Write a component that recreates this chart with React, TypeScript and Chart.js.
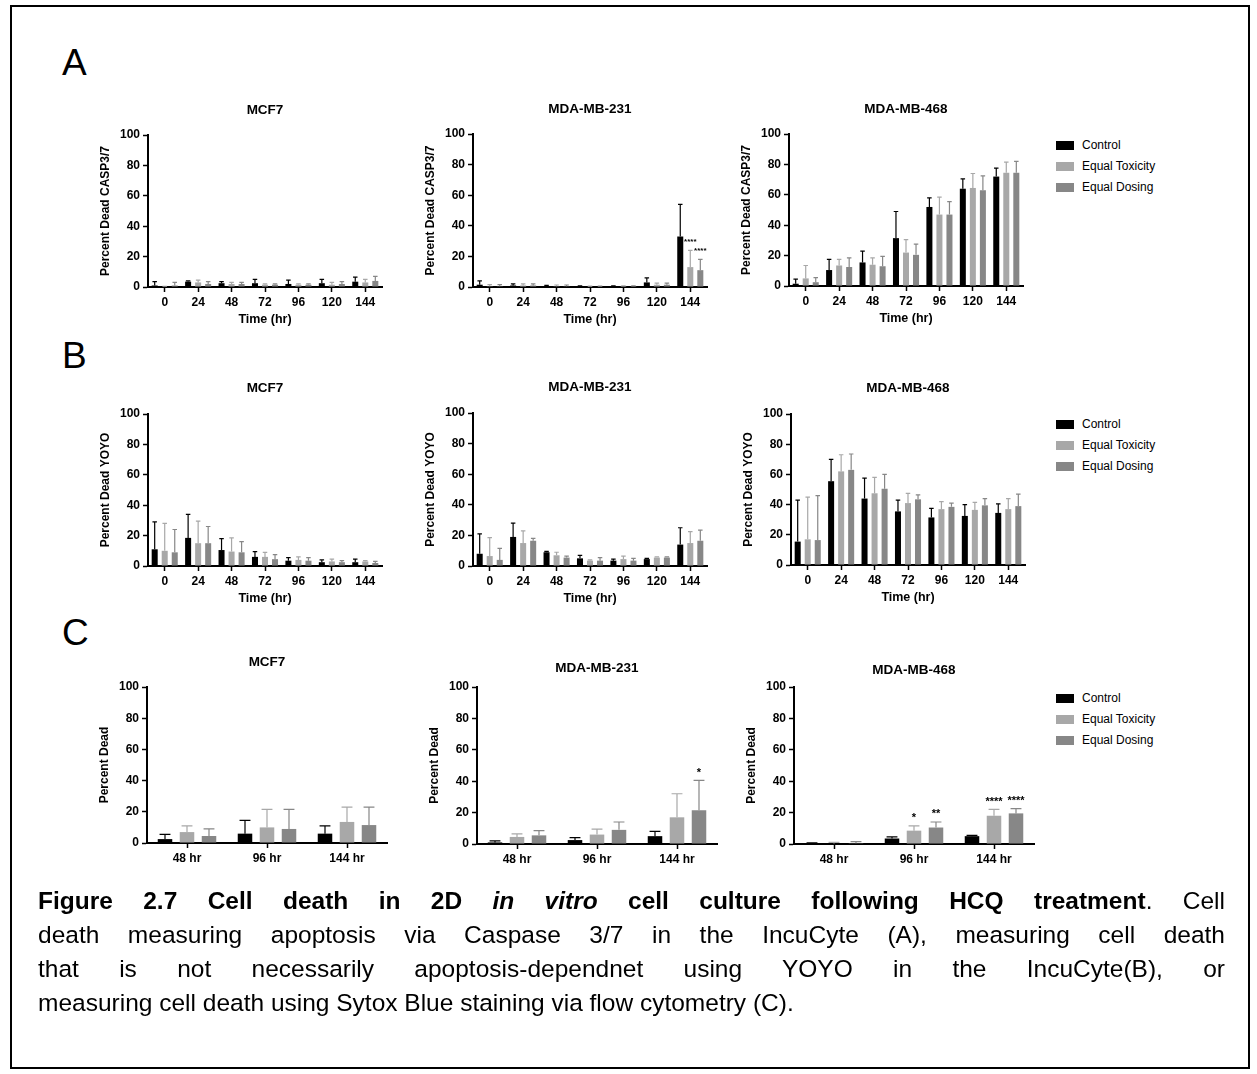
import React, { useEffect, useRef } from 'react';
import { Chart, registerables } from 'chart.js';

Chart.register(...registerables);

const FONT = '"Liberation Sans", Arial, Helvetica, sans-serif';

// ---------- labels ----------
const TIME_LABELS = ['0', '24', '48', '72', '96', '120', '144'];
const FLOW_LABELS = ['48 hr', '96 hr', '144 hr'];
const SERIES_NAMES = ['Control', 'Equal Toxicity', 'Equal Dosing'];
const SERIES_COLORS = ['#000000', '#a8a8a8', '#878787'];

// ---------- A: Caspase 3/7 (IncuCyte) ----------
const A_MCF7_CONTROL = [1.0, 3.5, 2.5, 2.5, 2.0, 2.5, 3.5];
const A_MCF7_CONTROL_SD = [2.5, 0.5, 1.0, 2.5, 2.5, 2.5, 3.0];
const A_MCF7_TOX = [0.3, 3.0, 2.0, 1.5, 1.5, 1.5, 3.0];
const A_MCF7_TOX_SD = [0.2, 1.5, 1.0, 0.5, 0.5, 1.5, 2.0];
const A_MCF7_DOSE = [1.0, 2.0, 2.0, 1.5, 1.5, 2.0, 4.0];
const A_MCF7_DOSE_SD = [2.0, 1.5, 1.0, 0.5, 0.5, 1.5, 3.0];

const A_231_CONTROL = [1.5, 1.0, 0.5, 0.5, 0.5, 3.0, 33.0];
const A_231_CONTROL_SD = [2.5, 1.0, 0.5, 0.3, 0.3, 3.0, 21.0];
const A_231_TOX = [0.5, 1.0, 0.5, 0.3, 0.5, 1.5, 13.0];
const A_231_TOX_SD = [1.0, 1.0, 0.8, 0.3, 0.3, 1.0, 11.0];
const A_231_DOSE = [0.5, 1.0, 0.5, 0.3, 0.5, 1.5, 11.0];
const A_231_DOSE_SD = [1.0, 1.0, 0.8, 0.3, 0.3, 1.0, 7.0];
const A_231_TOX_SIG = ['', '', '', '', '', '', '****'];
const A_231_DOSE_SIG = ['', '', '', '', '', '', '****'];

const A_468_CONTROL = [1.5, 10.5, 15.5, 31.5, 52.0, 64.0, 72.0];
const A_468_CONTROL_SD = [3.0, 7.0, 7.5, 17.5, 6.0, 6.5, 5.5];
const A_468_TOX = [5.0, 13.5, 14.0, 22.0, 47.0, 64.5, 74.5];
const A_468_TOX_SD = [8.5, 4.0, 4.5, 8.5, 11.5, 9.5, 7.0];
const A_468_DOSE = [2.5, 12.5, 13.0, 20.5, 47.0, 63.0, 74.5];
const A_468_DOSE_SD = [3.0, 6.0, 6.5, 7.0, 8.5, 9.5, 7.5];

// ---------- B: YOYO (IncuCyte) ----------
const B_MCF7_CONTROL = [11.0, 18.5, 10.5, 6.0, 3.5, 2.5, 2.5];
const B_MCF7_CONTROL_SD = [18.0, 15.5, 7.5, 3.5, 2.0, 1.5, 2.0];
const B_MCF7_TOX = [10.0, 15.0, 9.5, 6.0, 4.0, 3.0, 3.0];
const B_MCF7_TOX_SD = [18.0, 14.5, 9.0, 3.0, 2.0, 1.5, 0.5];
const B_MCF7_DOSE = [9.0, 15.0, 9.0, 4.5, 3.5, 2.5, 2.0];
const B_MCF7_DOSE_SD = [15.0, 11.0, 7.0, 3.0, 2.0, 1.0, 1.0];

const B_231_CONTROL = [8.0, 19.0, 9.0, 5.0, 3.5, 4.5, 14.0];
const B_231_CONTROL_SD = [13.0, 9.0, 0.5, 2.0, 1.0, 0.5, 11.0];
const B_231_TOX = [6.5, 15.0, 7.0, 3.5, 4.5, 5.5, 15.0];
const B_231_TOX_SD = [12.0, 8.0, 2.0, 0.5, 2.0, 0.5, 7.5];
const B_231_DOSE = [4.0, 16.5, 5.5, 3.5, 3.5, 5.5, 16.5];
const B_231_DOSE_SD = [7.5, 1.5, 1.0, 2.0, 1.5, 0.5, 7.0];

const B_468_CONTROL = [15.5, 55.5, 44.0, 35.5, 31.5, 32.5, 34.5];
const B_468_CONTROL_SD = [27.5, 14.5, 13.5, 7.5, 6.0, 7.5, 6.0];
const B_468_TOX = [17.0, 62.0, 47.5, 41.0, 37.0, 36.5, 37.0];
const B_468_TOX_SD = [28.0, 11.0, 10.5, 6.5, 5.0, 5.0, 7.0];
const B_468_DOSE = [16.5, 63.0, 50.5, 43.5, 38.5, 39.5, 39.0];
const B_468_DOSE_SD = [29.5, 10.5, 9.5, 3.0, 2.5, 4.5, 8.0];

// ---------- C: Sytox Blue (flow cytometry) ----------
const C_MCF7_CONTROL = [2.5, 6.0, 6.0];
const C_MCF7_CONTROL_SD = [3.0, 8.5, 5.0];
const C_MCF7_TOX = [7.0, 10.0, 13.5];
const C_MCF7_TOX_SD = [4.0, 11.5, 9.5];
const C_MCF7_DOSE = [4.5, 9.0, 11.5];
const C_MCF7_DOSE_SD = [4.5, 12.5, 11.5];

const C_231_CONTROL = [1.0, 2.5, 5.0];
const C_231_CONTROL_SD = [1.0, 1.5, 3.0];
const C_231_TOX = [4.5, 6.0, 17.0];
const C_231_TOX_SD = [2.0, 3.5, 15.0];
const C_231_DOSE = [5.5, 9.0, 21.5];
const C_231_DOSE_SD = [3.0, 5.0, 19.0];
const C_231_DOSE_SIG = ['', '', '*'];

const C_468_CONTROL = [0.3, 3.5, 5.0];
const C_468_CONTROL_SD = [0.4, 1.0, 0.5];
const C_468_TOX = [0.3, 8.5, 18.0];
const C_468_TOX_SD = [0.7, 3.0, 4.0];
const C_468_DOSE = [0.5, 10.5, 19.5];
const C_468_DOSE_SD = [1.0, 3.5, 3.0];
const C_468_TOX_SIG = ['', '*', '****'];
const C_468_DOSE_SIG = ['', '**', '****'];

type PanelDef = {
  title: string;
  yTitle: string;
  xTitle: string;
  labels: string[];
  means: number[][];
  sds: number[][];
  sig: string[][];
  ax: number;
  yTop: number;
  yBot: number;
  pw: number;
  titleOff: number;
  starSize: number;
  catPct: number;
  barPct: number;
};

const ROW_A = { yTitle: 'Percent Dead CASP3/7', xTitle: 'Time (hr)', labels: TIME_LABELS, pw: 234, starSize: 8, catPct: 0.9, barPct: 0.6 };
const ROW_B = { yTitle: 'Percent Dead YOYO', xTitle: 'Time (hr)', labels: TIME_LABELS, pw: 234, starSize: 8, catPct: 0.9, barPct: 0.6 };
const ROW_C = { yTitle: 'Percent Dead', xTitle: '', labels: FLOW_LABELS, pw: 240, starSize: 11, catPct: 0.825, barPct: 0.66 };

const PANELS: PanelDef[] = [
  { ...ROW_A, title: 'MCF7', ax: 148, yTop: 135, yBot: 287, titleOff: 25,
    means: [A_MCF7_CONTROL, A_MCF7_TOX, A_MCF7_DOSE], sds: [A_MCF7_CONTROL_SD, A_MCF7_TOX_SD, A_MCF7_DOSE_SD], sig: [[], [], []] },
  { ...ROW_A, title: 'MDA-MB-231', ax: 473, yTop: 134, yBot: 287, titleOff: 25,
    means: [A_231_CONTROL, A_231_TOX, A_231_DOSE], sds: [A_231_CONTROL_SD, A_231_TOX_SD, A_231_DOSE_SD], sig: [[], A_231_TOX_SIG, A_231_DOSE_SIG] },
  { ...ROW_A, title: 'MDA-MB-468', ax: 789, yTop: 134, yBot: 286, titleOff: 25,
    means: [A_468_CONTROL, A_468_TOX, A_468_DOSE], sds: [A_468_CONTROL_SD, A_468_TOX_SD, A_468_DOSE_SD], sig: [[], [], []] },
  { ...ROW_B, title: 'MCF7', ax: 148, yTop: 414, yBot: 566, titleOff: 26,
    means: [B_MCF7_CONTROL, B_MCF7_TOX, B_MCF7_DOSE], sds: [B_MCF7_CONTROL_SD, B_MCF7_TOX_SD, B_MCF7_DOSE_SD], sig: [[], [], []] },
  { ...ROW_B, title: 'MDA-MB-231', ax: 473, yTop: 413, yBot: 566, titleOff: 26,
    means: [B_231_CONTROL, B_231_TOX, B_231_DOSE], sds: [B_231_CONTROL_SD, B_231_TOX_SD, B_231_DOSE_SD], sig: [[], [], []] },
  { ...ROW_B, title: 'MDA-MB-468', ax: 791, yTop: 414, yBot: 565, titleOff: 26,
    means: [B_468_CONTROL, B_468_TOX, B_468_DOSE], sds: [B_468_CONTROL_SD, B_468_TOX_SD, B_468_DOSE_SD], sig: [[], [], []] },
  { ...ROW_C, title: 'MCF7', ax: 147, yTop: 687, yBot: 843, titleOff: 25,
    means: [C_MCF7_CONTROL, C_MCF7_TOX, C_MCF7_DOSE], sds: [C_MCF7_CONTROL_SD, C_MCF7_TOX_SD, C_MCF7_DOSE_SD], sig: [[], [], []] },
  { ...ROW_C, title: 'MDA-MB-231', ax: 477, yTop: 687, yBot: 844, titleOff: 19,
    means: [C_231_CONTROL, C_231_TOX, C_231_DOSE], sds: [C_231_CONTROL_SD, C_231_TOX_SD, C_231_DOSE_SD], sig: [[], [], C_231_DOSE_SIG] },
  { ...ROW_C, title: 'MDA-MB-468', ax: 794, yTop: 687, yBot: 844, titleOff: 17,
    means: [C_468_CONTROL, C_468_TOX, C_468_DOSE], sds: [C_468_CONTROL_SD, C_468_TOX_SD, C_468_DOSE_SD], sig: [[], C_468_TOX_SIG, C_468_DOSE_SIG] },
];

const LEFT_W = 60;
const TOP_H = 40;
const BOTTOM_H = 45;
const RIGHT_W = 10;
const TICK_FONT = { family: FONT, size: 12, weight: 'bold' as const };

function Panel({ p }: { p: PanelDef }) {
  const ref = useRef<HTMLCanvasElement | null>(null);
  const w = LEFT_W + p.pw + RIGHT_W;
  const h = TOP_H + (p.yBot - p.yTop) + BOTTOM_H;

  useEffect(() => {
    if (!ref.current) return;
    const decor = {
      id: 'decor',
      afterDatasetsDraw(chart: any) {
        const ctx = chart.ctx;
        const ys = chart.scales.y;
        p.means.forEach((m, di) => {
          const meta = chart.getDatasetMeta(di);
          meta.data.forEach((el: any, i: number) => {
            const top = m[i] + p.sds[di][i];
            const yT = ys.getPixelForValue(top);
            const x = el.x;
            const cap = el.width * 0.75;
            ctx.save();
            ctx.strokeStyle = SERIES_COLORS[di];
            ctx.lineWidth = 1.2;
            ctx.beginPath();
            ctx.moveTo(x, el.y);
            ctx.lineTo(x, yT);
            ctx.moveTo(x - cap / 2, yT);
            ctx.lineTo(x + cap / 2, yT);
            ctx.stroke();
            const s = p.sig[di] && p.sig[di][i];
            if (s) {
              ctx.fillStyle = '#000';
              ctx.font = `bold ${p.starSize}px ${FONT}`;
              ctx.textAlign = 'center';
              ctx.textBaseline = 'alphabetic';
              const center = yT - 11;
              ctx.fillText(s, x, center + 0.57 * p.starSize);
            }
            ctx.restore();
          });
        });
      },
      afterDraw(chart: any) {
        const ctx = chart.ctx;
        const a = chart.chartArea;
        ctx.save();
        ctx.fillStyle = '#000';
        ctx.textAlign = 'center';
        ctx.textBaseline = 'middle';
        ctx.font = `bold 13.5px ${FONT}`;
        ctx.fillText(p.title, (a.left + a.right) / 2, a.top - p.titleOff);
        if (p.xTitle) {
          ctx.font = `bold 12.5px ${FONT}`;
          ctx.fillText(p.xTitle, (a.left + a.right) / 2, a.bottom + 33);
        }
        ctx.translate(a.left - 42, (a.top + a.bottom) / 2);
        ctx.rotate(-Math.PI / 2);
        ctx.font = `bold 12px ${FONT}`;
        ctx.fillText(p.yTitle, 0, 0);
        ctx.restore();
      },
    };

    const chart = new Chart(ref.current, {
      type: 'bar',
      data: {
        labels: p.labels,
        datasets: p.means.map((m, di) => ({
          label: SERIES_NAMES[di],
          data: m,
          backgroundColor: SERIES_COLORS[di],
          borderWidth: 0,
          categoryPercentage: p.catPct,
          barPercentage: p.barPct,
        })),
      },
      options: {
        animation: false,
        responsive: true,
        maintainAspectRatio: false,
        devicePixelRatio: 1,
        layout: { padding: { top: TOP_H, right: RIGHT_W, left: 0, bottom: 0 } },
        plugins: { legend: { display: false }, tooltip: { enabled: false }, title: { display: false } },
        scales: {
          x: {
            type: 'category',
            offset: true,
            grid: { offset: false, drawOnChartArea: false, drawTicks: true, tickLength: 5, tickColor: '#000', tickWidth: 1.5 },
            border: { display: true, color: '#000', width: 2 },
            ticks: { color: '#000', padding: 3, maxRotation: 0, autoSkip: false, font: TICK_FONT },
            afterFit: (s: any) => { s.height = BOTTOM_H; },
          },
          y: {
            min: 0,
            max: 100,
            grid: { drawOnChartArea: false, drawTicks: true, tickLength: 5, tickColor: '#000', tickWidth: 1.5 },
            border: { display: true, color: '#000', width: 2 },
            ticks: { stepSize: 20, color: '#000', padding: 3, font: TICK_FONT },
            afterFit: (s: any) => { s.width = LEFT_W; },
          },
        },
      } as any,
      plugins: [decor],
    });
    return () => chart.destroy();
  }, []);

  return (
    <div style={{ position: 'absolute', left: p.ax - LEFT_W, top: p.yTop - TOP_H, width: w, height: h }}>
      <canvas ref={ref} />
    </div>
  );
}

const LEGEND_ROWS = [145, 424, 698];

function Legend({ top }: { top: number }) {
  return (
    <>
      {SERIES_NAMES.map((name, i) => (
        <React.Fragment key={name}>
          <div style={{ position: 'absolute', left: 1056, top: top + i * 21 - 4.5, width: 18, height: 9, background: SERIES_COLORS[i] }} />
          <div style={{ position: 'absolute', left: 1082, top: top + i * 21 - 9, height: 18, lineHeight: '18px', fontSize: 12, fontFamily: FONT, color: '#000', whiteSpace: 'nowrap' }}>{name}</div>
        </React.Fragment>
      ))}
    </>
  );
}

const PANEL_LETTERS = [
  { t: 'A', top: 44 },
  { t: 'B', top: 337 },
  { t: 'C', top: 614 },
];

export default function App() {
  const lineStyle: React.CSSProperties = { height: 34, lineHeight: '34px', whiteSpace: 'nowrap', textAlign: 'justify', textAlignLast: 'justify' as any };
  return (
    <div style={{ position: 'absolute', left: 0, top: 0, width: 1257, height: 1074, background: '#fff', overflow: 'hidden' }}>
      <div style={{ position: 'absolute', left: 10, top: 5, width: 1240, height: 1064, border: '2px solid #000', boxSizing: 'border-box' }} />
      {PANEL_LETTERS.map((l) => (
        <div key={l.t} style={{ position: 'absolute', left: 62, top: l.top, fontFamily: FONT, fontSize: 37, lineHeight: '37px', color: '#000' }}>{l.t}</div>
      ))}
      {PANELS.map((p, i) => <Panel key={i} p={p} />)}
      {LEGEND_ROWS.map((t) => <Legend key={t} top={t} />)}
      <div style={{ position: 'absolute', left: 38, top: 884, width: 1187, fontFamily: FONT, fontSize: 24.5, color: '#000' }}>
        <div style={lineStyle}><b>Figure 2.7 Cell death in 2D <i>in vitro</i> cell culture following HCQ treatment</b>. Cell</div>
        <div style={lineStyle}>death measuring apoptosis via Caspase 3/7 in the IncuCyte (A), measuring cell death</div>
        <div style={lineStyle}>that is not necessarily apoptosis-dependnet using YOYO in the IncuCyte(B), or</div>
        <div style={{ height: 34, lineHeight: '34px', whiteSpace: 'nowrap' }}>measuring cell death using Sytox Blue staining via flow cytometry (C).</div>
      </div>
    </div>
  );
}
